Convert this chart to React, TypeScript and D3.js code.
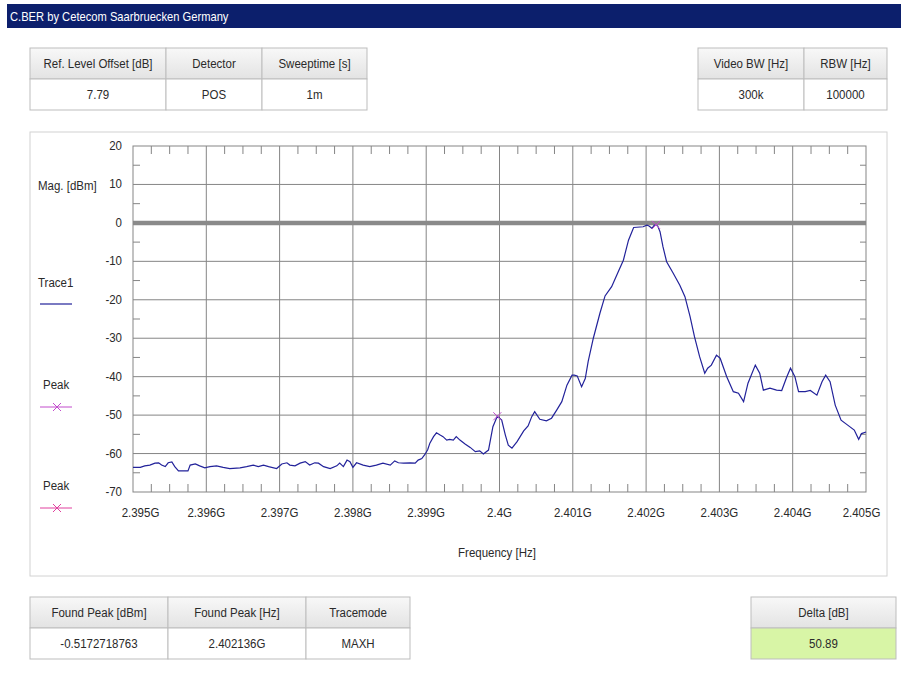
import React from 'react';
import { scaleLinear, line, range } from 'd3';

// trace readings, frequency in MHz / magnitude in dBm
const freqMHz = [
  2395.0, 2395.1, 2395.16, 2395.23, 2395.3, 2395.35, 2395.39, 2395.44, 2395.48, 2395.53,
  2395.57, 2395.62, 2395.75, 2395.78, 2395.85, 2395.91, 2395.98, 2396.05, 2396.14, 2396.23,
  2396.32, 2396.46, 2396.55, 2396.64, 2396.71, 2396.78, 2396.85, 2396.96, 2397.03, 2397.1,
  2397.14, 2397.21, 2397.28, 2397.35, 2397.41, 2397.48, 2397.53, 2397.6, 2397.69, 2397.78,
  2397.82, 2397.87, 2397.92, 2397.96, 2398.0, 2398.05, 2398.14, 2398.23, 2398.32, 2398.41,
  2398.51, 2398.57, 2398.62, 2398.69, 2398.78, 2398.85, 2398.89, 2398.94, 2398.98, 2399.02,
  2399.05, 2399.1, 2399.14, 2399.19, 2399.23, 2399.28, 2399.32, 2399.37, 2399.41, 2399.46,
  2399.53, 2399.6, 2399.67, 2399.73, 2399.78, 2399.85, 2399.91, 2399.97, 2400.03, 2400.08,
  2400.12, 2400.17, 2400.24, 2400.33, 2400.39, 2400.44, 2400.48, 2400.55, 2400.64, 2400.71,
  2400.78, 2400.85, 2400.92, 2400.99, 2401.02, 2401.06, 2401.12, 2401.17, 2401.21, 2401.28,
  2401.37, 2401.44, 2401.53, 2401.62, 2401.69, 2401.76, 2401.83, 2401.96, 2402.01, 2402.04,
  2402.08, 2402.11, 2402.136, 2402.16, 2402.19, 2402.23, 2402.28, 2402.37, 2402.46, 2402.53,
  2402.6, 2402.66, 2402.73, 2402.8, 2402.84, 2402.89, 2402.96, 2403.01, 2403.1, 2403.19,
  2403.26, 2403.33, 2403.39, 2403.49, 2403.55, 2403.6, 2403.69, 2403.78, 2403.85, 2403.92,
  2403.97, 2404.03, 2404.08, 2404.17, 2404.24, 2404.33, 2404.4, 2404.45, 2404.51, 2404.58,
  2404.66, 2404.75, 2404.84, 2404.9, 2404.94, 2405.0,
];
const magDbm = [
  -63.6, -63.6, -63.2, -63.0, -62.5, -62.4, -63.0, -63.4, -62.4, -62.2,
  -63.4, -64.5, -64.5, -63.0, -62.7, -63.2, -63.7, -63.4, -63.2, -63.6,
  -63.9, -63.7, -63.4, -63.0, -63.4, -63.0, -63.4, -63.9, -62.7, -62.4,
  -63.0, -63.2, -62.5, -62.1, -63.0, -62.4, -62.5, -63.4, -63.9, -63.2,
  -62.5, -63.4, -61.7, -62.1, -63.6, -62.4, -63.0, -63.4, -63.0, -62.5,
  -63.0, -61.9, -62.4, -62.5, -62.4, -62.5, -61.7, -61.3, -60.3, -59.0,
  -57.3, -55.6, -54.6, -55.2, -55.6, -56.5, -56.3, -56.5, -55.6, -56.5,
  -57.5, -58.4, -59.5, -59.3, -60.1, -59.1, -53.0, -50.3, -51.3, -55.2,
  -57.8, -58.6, -56.9, -54.1, -52.8, -50.4, -49.1, -51.1, -51.5, -50.8,
  -48.7, -46.5, -42.2, -39.6, -39.6, -39.8, -42.6, -40.5, -36.0, -30.0,
  -23.5, -19.0, -16.6, -12.7, -9.7, -4.5, -1.2, -1.0, -0.6, -0.8,
  -1.4, -0.6, -0.52, -0.9, -2.3, -6.2, -10.1, -13.1, -16.2, -19.2,
  -24.4, -29.6, -34.8, -39.1, -37.8, -37.0, -34.4, -35.2, -40.0, -43.9,
  -44.3, -46.5, -41.7, -37.0, -39.1, -43.5, -43.0, -43.5, -43.6, -40.0,
  -37.8, -40.0, -43.9, -43.9, -43.6, -44.8, -41.3, -39.6, -41.3, -47.4,
  -51.3, -52.6, -53.9, -56.3, -54.8, -54.4,
];

const peakFreqs = [2402.136, 2399.97];
const peakMags = [-0.52, -50.3];

const xTicks = [2395, 2396, 2397, 2398, 2399, 2400, 2401, 2402, 2403, 2404, 2405];
const xTickLabels = ['2.395G', '2.396G', '2.397G', '2.398G', '2.399G', '2.4G', '2.401G', '2.402G', '2.403G', '2.404G', '2.405G'];
const yTicks = [20, 10, 0, -10, -20, -30, -40, -50, -60, -70];

const topLeftHeaders = ['Ref. Level Offset [dB]', 'Detector', 'Sweeptime [s]'];
const topLeftValues = ['7.79', 'POS', '1m'];
const topRightHeaders = ['Video BW [Hz]', 'RBW [Hz]'];
const topRightValues = ['300k', '100000'];
const bottomHeaders = ['Found Peak [dBm]', 'Found Peak [Hz]', 'Tracemode'];
const bottomValues = ['-0.5172718763', '2.402136G', 'MAXH'];
const deltaHeaders = ['Delta [dB]'];
const deltaValues = ['50.89'];

const FONT = '"Liberation Sans", Arial, sans-serif';
const TEXT = '#2a2a2a';
const GRID = '#858585';
const TRACE = '#22229a';
const PEAK1 = '#c24ccc';
const PEAK2 = '#e0409e';

const T = ({ x, y, anchor = 'start', size = 12.5, sx = 0.92, fill = TEXT, children }: any) => (
  <text
    transform={`translate(${x},${y}) scale(${sx},1)`}
    textAnchor={anchor}
    fontSize={size}
    fontFamily={FONT}
    fill={fill}
  >
    {children}
  </text>
);

const Table = ({ x, y, widths, headers, values, valueFill = '#fff' }: any) => {
  const rowH = 31;
  let cx = x;
  const cells = widths.map((w: number, i: number) => {
    const c = (
      <g key={i}>
        <rect x={cx} y={y} width={w} height={rowH} fill="url(#hdr)" stroke="#bdbdbd" />
        <rect x={cx} y={y + rowH} width={w} height={rowH} fill={valueFill} stroke="#bdbdbd" />
        <T x={cx + w / 2} y={y + 20} anchor="middle">{headers[i]}</T>
        <T x={cx + w / 2} y={y + rowH + 20} anchor="middle">{values[i]}</T>
      </g>
    );
    cx += w;
    return c;
  });
  return <g>{cells}</g>;
};

const Cross = ({ cx, cy, color, r = 4 }: any) => (
  <g stroke={color} strokeWidth={1}>
    <line x1={cx - r} y1={cy - r} x2={cx + r} y2={cy + r} />
    <line x1={cx - r} y1={cy + r} x2={cx + r} y2={cy - r} />
  </g>
);

export default function App() {
  const left = 133, right = 866, top = 146, bottom = 492;
  const x = scaleLinear().domain([2395, 2405]).range([left, right]);
  const y = scaleLinear().domain([-70, 20]).range([bottom, top]);

  const trace = line<number>()
    .x((d) => x(d))
    .y((_d, i) => y(magDbm[i]))(freqMHz) as string;

  const minorX = range(2395, 2405.001, 0.25).filter((f) => Math.abs(f - Math.round(f)) > 0.01);
  const minorY = range(-65, 20, 10);

  return (
    <div style={{ position: 'absolute', left: 0, top: 0 }}>
      <svg width={901} height={677} style={{ display: 'block', background: '#fff' }}>
        <defs>
          <linearGradient id="hdr" x1="0" y1="0" x2="0" y2="1">
            <stop offset="0" stopColor="#f8f8f8" />
            <stop offset="1" stopColor="#e3e3e3" />
          </linearGradient>
        </defs>

        {/* title bar */}
        <rect x={7} y={4} width={894} height={24} fill="#0c1f6c" />
        <T x={10} y={21} size={13} sx={0.86} fill="#fff">C.BER by Cetecom Saarbruecken Germany</T>

        <Table x={30} y={48} widths={[136, 96, 105]} headers={topLeftHeaders} values={topLeftValues} />
        <Table x={698} y={48} widths={[106, 83]} headers={topRightHeaders} values={topRightValues} />

        {/* chart panel */}
        <rect x={30} y={132} width={857} height={444} fill="#fff" stroke="#d2d2d2" />

        {/* grid */}
        {xTicks.slice(1, -1).map((f) => (
          <line key={'gx' + f} x1={x(f)} x2={x(f)} y1={top} y2={bottom} stroke={GRID} />
        ))}
        {yTicks.filter((v) => v !== 0 && v !== 20 && v !== -70).map((v) => (
          <line key={'gy' + v} x1={left} x2={right} y1={y(v)} y2={y(v)} stroke={GRID} />
        ))}
        <line x1={left} x2={right} y1={y(0)} y2={y(0)} stroke="#8a8a8a" strokeWidth={4.5} />

        {/* minor ticks */}
        {minorX.map((f) => (
          <g key={'mx' + f} stroke={GRID}>
            <line x1={x(f)} x2={x(f)} y1={bottom} y2={bottom - 8} />
            <line x1={x(f)} x2={x(f)} y1={top} y2={top + 8} />
          </g>
        ))}
        {minorY.map((v) => (
          <g key={'my' + v} stroke={GRID}>
            <line x1={left} x2={left + 7} y1={y(v)} y2={y(v)} />
            <line x1={right} x2={right - 6} y1={y(v)} y2={y(v)} />
          </g>
        ))}
        <rect x={left} y={top} width={right - left} height={bottom - top} fill="none" stroke={GRID} />

        {/* trace */}
        <path d={trace} fill="none" stroke={TRACE} strokeWidth={1.2} />
        {peakFreqs.map((f, i) => (
          <Cross key={'pk' + i} cx={x(f)} cy={y(peakMags[i])} color={PEAK1} />
        ))}

        {/* y axis labels */}
        {yTicks.map((v) => (
          <T key={'yl' + v} x={122} y={y(v) + 4} anchor="end">{v}</T>
        ))}
        {/* x axis labels */}
        {xTicks.map((f, i) => {
          const cx = Math.min(Math.max(x(f), 140.5), 861.5);
          return (
            <T key={'xl' + f} x={cx} y={517} anchor="middle">{xTickLabels[i]}</T>
          );
        })}
        <T x={497} y={557} anchor="middle">Frequency [Hz]</T>

        {/* legend */}
        <T x={38} y={190}>Mag. [dBm]</T>
        <T x={38} y={287}>Trace1</T>
        <line x1={40} x2={72} y1={304} y2={304} stroke={TRACE} strokeWidth={1.2} />
        <T x={43} y={389}>Peak</T>
        <line x1={40} x2={72} y1={407} y2={407} stroke={PEAK1} />
        <Cross cx={57} cy={407} color={PEAK1} />
        <T x={43} y={490}>Peak</T>
        <line x1={40} x2={72} y1={508} y2={508} stroke={PEAK2} />
        <Cross cx={57} cy={508} color={PEAK2} />

        <Table x={30} y={597} widths={[138, 138, 104]} headers={bottomHeaders} values={bottomValues} />
        <Table x={751} y={597} widths={[145]} headers={deltaHeaders} values={deltaValues} valueFill="#d8f5a6" />
      </svg>
    </div>
  );
}
